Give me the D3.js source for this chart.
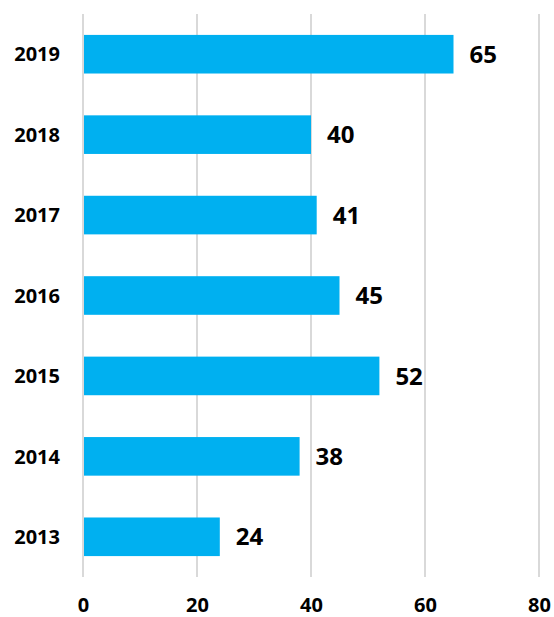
<!DOCTYPE html>
<html>
<head>
<meta charset="utf-8">
<script src="https://cdn.jsdelivr.net/npm/d3@7"></script>
<style>
  html, body { margin: 0; padding: 0; background: #fff; overflow: hidden; }
  svg { display: block; font-family: "Open Sans", "Liberation Sans", sans-serif; }
</style>
</head>
<body>
<svg id="chart" width="554" height="617"></svg>
<script>
const years = ["2019", "2018", "2017", "2016", "2015", "2014", "2013"];
const values = [65, 40, 41, 45, 52, 38, 24];
const xTicks = [0, 20, 40, 60, 80];

const svg = d3.select("#chart");
const mLeft = 83, mRight = 539, mTop = 14, mBottom = 577;

const x = d3.scaleLinear().domain([0, 80]).range([mLeft, mRight]);
const y = d3.scaleBand().domain(years).range([mTop, mBottom]).paddingInner(0.52).paddingOuter(0.26);

// gridlines
svg.append("g").selectAll("line").data(xTicks).join("line")
  .attr("x1", d => x(d)).attr("x2", d => x(d))
  .attr("y1", mTop).attr("y2", mBottom)
  .attr("stroke", "#d9d9d9").attr("stroke-width", 2);

// bars
svg.append("g").selectAll("rect").data(years).join("rect")
  .attr("x", x(0) + 1)
  .attr("y", d => y(d))
  .attr("width", (d, i) => x(values[i]) - x(0) - 1)
  .attr("height", y.bandwidth())
  .attr("fill", "#00B0F0");

// value labels
svg.append("g").selectAll("text").data(years).join("text")
  .attr("x", (d, i) => x(values[i]) + 16)
  .attr("y", d => y(d) + y.bandwidth() / 2)
  .attr("dy", "0.36em")
  .attr("font-size", 24).attr("font-weight", 700).attr("fill", "#000")
  .text((d, i) => values[i]);

// y axis labels
const yAxis = d3.axisLeft(y).tickSize(0).tickPadding(23);
const gy = svg.append("g").attr("transform", `translate(${mLeft},0)`).call(yAxis);
gy.select(".domain").remove();
gy.selectAll("text").attr("font-size", 20).attr("font-weight", 700).attr("fill", "#000")
  .attr("font-family", "Open Sans, Liberation Sans, sans-serif").attr("dy", "0.36em");

// x axis labels
const xAxis = d3.axisBottom(x).tickValues(xTicks).tickSize(0).tickPadding(0);
const gx = svg.append("g").attr("transform", `translate(0,${mBottom})`).call(xAxis);
gx.select(".domain").remove();
gx.selectAll("text").attr("font-size", 20).attr("font-weight", 700).attr("fill", "#000")
  .attr("font-family", "Open Sans, Liberation Sans, sans-serif")
  .attr("y", 28).attr("dy", "0.36em");
</script>
</body>
</html>
